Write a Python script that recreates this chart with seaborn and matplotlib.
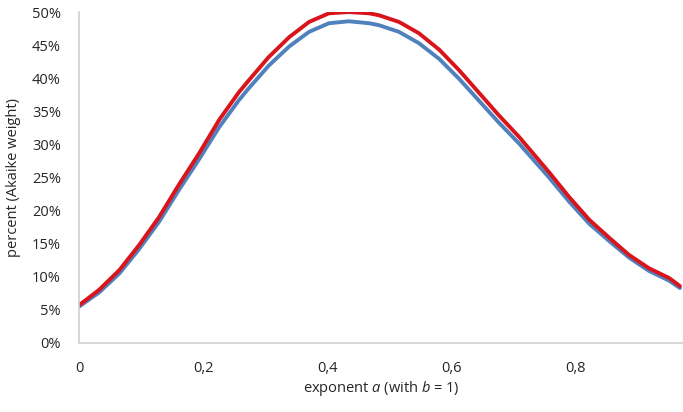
import numpy as np
import pandas as pd
import matplotlib
matplotlib.use("Agg")
import matplotlib.pyplot as plt
import seaborn as sns
from matplotlib.ticker import FuncFormatter

# exponent a values
a_vals = [0.0, 0.032, 0.065, 0.097, 0.129, 0.161, 0.194, 0.226, 0.258, 0.274,
          0.306, 0.339, 0.371, 0.403, 0.435, 0.468, 0.484, 0.516, 0.548, 0.581,
          0.613, 0.645, 0.677, 0.710, 0.758, 0.790, 0.823, 0.855, 0.887, 0.919,
          0.952, 0.969]
# red series (percent)
red_vals = [5.7, 8.0, 11.0, 14.8, 19.0, 23.9, 28.7, 33.7, 37.9, 39.7,
            43.2, 46.2, 48.5, 49.8, 50.0, 49.8, 49.5, 48.5, 46.8, 44.3,
            41.2, 37.8, 34.4, 31.1, 25.8, 22.1, 18.6, 15.9, 13.3, 11.3,
            9.8, 8.6]
# blue series (percent)
blue_vals = [5.5, 7.6, 10.5, 14.2, 18.3, 23.1, 27.8, 32.6, 36.7, 38.5,
             41.9, 44.8, 47.0, 48.3, 48.6, 48.3, 48.0, 47.0, 45.3, 42.9,
             39.9, 36.6, 33.3, 30.1, 25.0, 21.4, 18.0, 15.4, 12.9, 10.9,
             9.4, 8.3]
x_ticks = [0, 0.2, 0.4, 0.6, 0.8]
y_ticks = [0, 5, 10, 15, 20, 25, 30, 35, 40, 45, 50]

sns.set_theme(style="white")
plt.rcParams['font.family'] = ['Open Sans', 'DejaVu Sans']
plt.rcParams['mathtext.fontset'] = 'custom'
plt.rcParams['mathtext.rm'] = 'Open Sans'
plt.rcParams['mathtext.it'] = 'Open Sans:italic'

df = pd.DataFrame({
    "a": a_vals * 2,
    "pct": np.array(blue_vals + red_vals) / 100.0,
    "series": ["blue"] * len(a_vals) + ["red"] * len(a_vals),
})

fig = plt.figure(figsize=(6.83, 4.12), dpi=100)
ax = fig.add_axes([79/683, 1 - 343/412, 1 - 79/683, (343 - 12)/412])

sns.lineplot(data=df, x="a", y="pct", hue="series",
             hue_order=["blue", "red"],
             palette={"blue": "#4F81BD", "red": "#D9141B"},
             linewidth=2.8, legend=False, ax=ax, sort=True)

ax.set_xlim(0, 0.974)
ax.set_ylim(0, 0.5)
ax.set_xticks(x_ticks)
ax.set_yticks([v / 100 for v in y_ticks])
ax.xaxis.set_major_formatter(FuncFormatter(lambda v, p: "0" if v == 0 else f"{v:.1f}".replace(".", ",")))
ax.yaxis.set_major_formatter(FuncFormatter(lambda v, p: f"{round(v*100):d}%"))
ax.tick_params(axis="both", length=0, labelsize=10.5, colors="#262626")
ax.tick_params(axis="y", pad=13)
ax.tick_params(axis="x", pad=13)

for s in ["top", "right"]:
    ax.spines[s].set_visible(False)
for s in ["left", "bottom"]:
    ax.spines[s].set_color("#D0D0D0")
    ax.spines[s].set_linewidth(1.2)

ax.set_xlabel(r"exponent $a$ (with $b$ = 1)", fontsize=10.5, color="#262626")
ax.set_ylabel("percent (Akaike weight)", fontsize=10.5, color="#262626",
              va="center", ha="center")
ax.xaxis.set_label_coords(0.5, -0.11)
ax.yaxis.set_label_coords(-0.108, 0.5)

fig.savefig("out.png", dpi=100)
